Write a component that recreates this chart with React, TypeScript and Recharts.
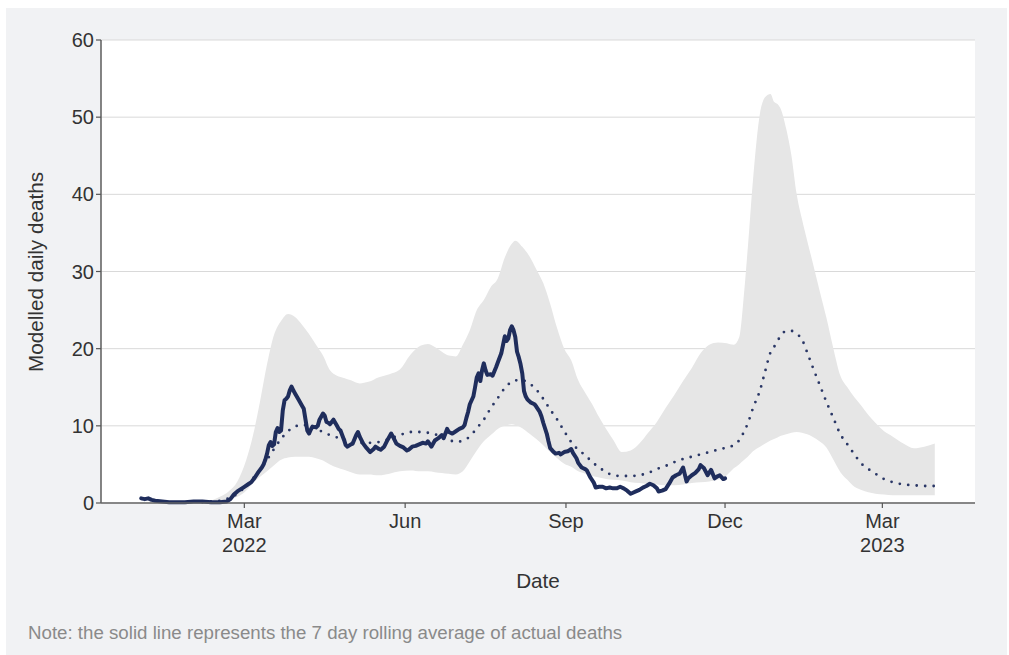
import React from "react";
import {
  ComposedChart,
  Area,
  Line,
  XAxis,
  YAxis,
  CartesianGrid,
} from "recharts";

// Day index = days since 1 Jan 2022.

// Seven-day rolling average of actual deaths
const actualDays = [
  0, 2, 4, 6, 8, 12, 16, 20, 25, 30, 35, 40, 45, 49, 51, 53, 55, 57, 59, 61,
  63, 65, 67, 69, 70, 71, 72, 73, 74, 75, 76, 77, 78, 79, 80, 81, 82, 83, 84,
  85, 86, 87, 88, 89, 90, 92, 93, 94, 95, 96, 97, 98, 100, 101, 102, 104, 105,
  106, 107, 108, 110, 112, 113, 114, 116, 117, 118, 120, 121, 123, 124, 125,
  127, 129, 131, 133, 134, 136, 137, 139, 141, 143, 144, 146, 148, 150, 152,
  153, 155, 157, 159, 161, 163, 164, 166, 168, 170, 172, 173, 175, 176, 178,
  180, 182, 184, 185, 186, 187, 188, 190, 191, 192, 193, 194, 195, 196, 197,
  198, 200, 201, 203, 204, 206, 207, 208, 209, 210, 211, 212, 213, 214, 215,
  216, 217, 218, 219, 220, 221, 223, 225, 226, 228, 229, 230, 232, 233, 234,
  236, 237, 239, 240, 242, 244, 246, 247, 249, 250, 252, 254, 255, 257, 259,
  260, 262, 264, 266, 268, 270, 272, 274, 276, 278, 280, 281, 283, 285, 287,
  289, 291, 293, 295, 296, 298, 300, 302, 304, 306, 308, 310, 311, 312, 313,
  315, 317, 319, 320, 322, 324, 326, 328, 330, 331, 333, 334,
];
const actualDeaths = [
  0.6, 0.5, 0.6, 0.4, 0.3, 0.2, 0.1, 0.1, 0.1, 0.2, 0.2, 0.1, 0.1, 0.2, 0.5,
  1.1, 1.5, 1.8, 2.1, 2.4, 2.7, 3.3, 4.0, 4.6, 5.0, 5.6, 6.4, 7.5, 7.9, 7.4,
  7.6, 9.2, 9.7, 9.2, 9.4, 12.0, 13.3, 13.5, 13.8, 14.6, 15.1, 14.6, 14.2,
  13.8, 13.4, 12.6, 12.2, 10.8, 9.4, 9.0, 9.5, 9.9, 9.8, 10.0, 10.8, 11.6,
  11.3, 10.5, 10.4, 10.2, 10.8, 10.0, 9.6, 9.4, 8.2, 7.5, 7.3, 7.6, 7.7, 8.8,
  9.2, 8.6, 7.7, 7.1, 6.6, 7.0, 7.3, 7.0, 6.9, 7.3, 8.2, 9.0, 8.6, 7.7, 7.4,
  7.2, 6.8, 6.9, 7.3, 7.4, 7.6, 7.8, 7.7, 8.0, 7.3, 8.1, 8.4, 8.8, 8.4, 9.6,
  9.2, 9.0, 9.3, 9.6, 9.8, 10.1, 11.0, 11.8, 12.8, 13.8, 15.0, 16.3, 16.8,
  15.8, 17.2, 18.1, 17.2, 16.6, 16.7, 16.5, 17.6, 18.2, 19.4, 20.5, 21.6, 21.0,
  21.3, 22.4, 22.9, 22.4, 21.5, 19.6, 18.9, 18.0, 16.8, 14.5, 13.8, 13.4, 13.0,
  12.8, 12.5, 11.8, 11.2, 10.4, 9.0, 8.0, 7.1, 6.6, 6.4, 6.5, 6.3, 6.6, 6.7,
  7.0, 6.5, 5.8, 5.2, 4.6, 4.4, 4.2, 3.3, 2.6, 2.0, 2.1, 2.1, 1.9, 2.0, 1.9,
  1.9, 2.1, 1.9, 1.6, 1.2, 1.3, 1.5, 1.7, 2.0, 2.2, 2.5, 2.3, 1.9, 1.5, 1.6,
  1.8, 2.5, 3.3, 3.6, 3.8, 4.6, 3.7, 2.8, 3.2, 3.6, 3.9, 4.4, 4.9, 4.5, 3.6,
  4.3, 3.2, 3.5, 3.6, 3.1, 3.2,
];

// Modelled deaths: median and uncertainty interval
const modelDays = [
  35, 40, 45, 50, 55, 60, 64, 68, 72, 76, 80, 84, 88, 92, 96, 100, 104, 108,
  112, 116, 120, 125, 130, 136, 142, 148, 154, 160, 164, 168, 172, 176, 180,
  184, 188, 192, 196, 200, 204, 208, 212, 214, 218, 222, 226, 230, 234, 238,
  242, 246, 250, 254, 258, 262, 266, 270, 275, 280, 285, 290, 295, 300, 305,
  310, 315, 320, 325, 330, 335, 339, 342, 345, 347, 350, 354, 357, 360, 362,
  364, 366, 369, 372, 375, 378, 381, 384, 388, 392, 396, 400, 404, 408, 412,
  416, 420, 425, 430, 436, 442, 448, 454,
];
const modelMedian = [
  0.1, 0.2, 0.3, 0.6, 1.2, 2.2, 3.2, 4.3, 5.6, 7.0, 8.3, 9.3, 9.9, 10.1, 10.0,
  9.6, 9.2, 8.8, 8.5, 8.2, 8.0, 7.8, 7.8, 7.9, 8.3, 8.8, 9.2, 9.2, 9.1, 8.9,
  8.6, 8.2, 7.9, 8.1, 8.6, 9.7, 10.8, 12.3, 13.6, 14.9, 15.7, 15.9, 15.9, 15.5,
  14.7, 13.5, 12.1, 10.8, 9.3, 7.9, 6.9, 6.2, 5.3, 4.6, 4.0, 3.6, 3.5, 3.5,
  3.6, 3.9, 4.4, 4.8, 5.3, 5.7, 6.0, 6.3, 6.6, 6.9, 7.2, 7.5, 8.1, 9.3, 10.3,
  12.3, 14.6, 17.1, 19.5, 20.2, 21.0, 21.7, 22.3, 22.3, 21.9, 21.2, 19.5, 17.7,
  15.4, 13.1, 11.0, 8.9, 7.6, 6.3, 5.1, 4.4, 3.8, 3.1, 2.7, 2.4, 2.3, 2.2, 2.2,
];
const modelLower = [
  0, 0.1, 0.3, 0.5, 0.8, 1.6, 2.6, 3.4, 4.1, 4.9, 5.6, 5.9, 6.0, 6.0, 6.0, 5.8,
  5.5, 5.0, 4.6, 4.3, 4.0, 3.7, 3.7, 3.6, 3.8, 4.1, 4.2, 4.1, 4.1, 4.0, 3.9,
  3.8, 3.7, 4.1, 5.4, 6.8, 8.0, 8.8, 9.6, 10.0, 10.2, 10.1, 9.7, 9.0, 8.3, 7.5,
  6.6, 5.8, 5.1, 4.7, 4.1, 3.8, 3.5, 3.3, 3.1, 3.0, 2.9, 2.7, 2.6, 2.5, 2.4,
  2.3, 2.3, 2.4, 2.6, 2.7, 2.8, 3.0, 3.6, 4.5, 5.0, 5.6, 6.0, 6.7, 7.3, 7.7,
  8.1, 8.3, 8.5, 8.7, 8.9, 9.1, 9.2, 9.1, 8.9, 8.6, 8.0, 7.2, 5.6, 4.0, 3.0,
  2.1, 1.7, 1.4, 1.2, 1.1, 1.0, 1.0, 1.0, 1.0, 1.0,
];
const modelUpper = [
  0, 0.3, 0.8, 1.5, 2.8, 5.5, 8.8, 13.2, 18.0, 21.8, 23.6, 24.5, 24.1, 23.1,
  21.9, 20.5, 19.1, 17.2, 16.5, 16.2, 15.9, 15.5, 15.7, 16.3, 16.7, 17.3, 19.2,
  20.4, 20.6, 20.2, 19.6, 19.1, 19.0, 20.5, 22.4, 25.0, 26.3, 28.0, 29.1, 31.8,
  33.6, 34.0, 33.2, 32.0, 30.3, 28.5, 25.8, 22.6, 20.0, 18.5, 15.9, 14.3, 12.8,
  11.1, 9.6, 8.2, 6.6, 6.8, 7.7, 9.1, 10.5, 12.3, 14.0, 15.8, 17.5, 19.4, 20.5,
  20.8, 20.7, 20.5, 21.4, 27.5, 33.0, 41.9, 50.5, 52.6, 53.0, 52.0, 51.7, 51.0,
  48.5, 45.0, 40.0, 36.8, 34.0, 31.3, 27.6, 24.0, 20.0, 16.5, 15.0, 13.7, 12.6,
  11.4, 10.4, 9.3, 8.6, 7.7, 7.1, 7.3, 7.7,
];

// Axis ticks
const xTickDays = [59, 151, 243, 334, 424];
const xTickLabels = [["Mar", "2022"], ["Jun"], ["Sep"], ["Dec"], ["Mar", "2023"]];
const yTicks = [0, 10, 20, 30, 40, 50, 60];

const actualData = actualDays.map((d, i) => ({ d, v: actualDeaths[i] }));
const modelData = modelDays.map((d, i) => ({
  d,
  med: modelMedian[i],
  band: [modelLower[i], modelUpper[i]],
}));

const FONT = "'Liberation Sans', Arial, Helvetica, sans-serif";
const NAVY = "#1f2d5c";

const XTick = (props: any) => {
  const { x, y, payload } = props;
  const idx = xTickDays.indexOf(payload.value);
  const lines = idx >= 0 ? xTickLabels[idx] : [];
  return (
    <text
      x={x}
      y={y}
      textAnchor="middle"
      fill="#333"
      fontSize={20}
      fontFamily={FONT}
    >
      {lines.map((t, i) => (
        <tspan key={i} x={x} dy={i === 0 ? 18 : 23.5}>
          {t}
        </tspan>
      ))}
    </text>
  );
};

export default function App() {
  return (
    <div
      style={{
        position: "absolute",
        left: 0,
        top: 0,
        width: 1009,
        height: 655,
        background: "#ffffff",
        fontFamily: FONT,
      }}
    >
      <div
        style={{
          position: "absolute",
          left: 6,
          top: 8,
          width: 1001,
          height: 647,
          background: "#f1f2f4",
        }}
      />
      <div style={{ position: "absolute", left: 0, top: 0 }}>
        <ComposedChart
          width={1009}
          height={655}
          margin={{ top: 40, right: 34, bottom: 92, left: 0 }}
        >
          <CartesianGrid
            horizontal
            vertical={false}
            fill="#ffffff"
            stroke="#d9d9d9"
            strokeWidth={1}
          />
          <XAxis
            type="number"
            dataKey="d"
            domain={[-23, 477]}
            ticks={xTickDays}
            allowDataOverflow
            height={60}
            tick={<XTick />}
            tickLine={{ stroke: "#555", strokeWidth: 1.2 }}
            tickSize={5}
            axisLine={{ stroke: "#666", strokeWidth: 1.6 }}
            interval={0}
          />
          <YAxis
            type="number"
            domain={[0, 60]}
            ticks={yTicks}
            width={101}
            interval={0}
            tick={{ fill: "#333", fontSize: 20, fontFamily: FONT }}
            tickLine={{ stroke: "#555", strokeWidth: 1.2 }}
            tickSize={5}
            axisLine={{ stroke: "#666", strokeWidth: 1.6 }}
          />
          <Area
            data={modelData}
            dataKey="band"
            type="monotone"
            stroke="none"
            fill="#e6e6e6"
            fillOpacity={1}
            isAnimationActive={false}
            dot={false}
            activeDot={false}
          />
          <Line
            data={modelData}
            dataKey="med"
            type="monotone"
            stroke="#2a3766"
            strokeWidth={2.8}
            strokeDasharray="0 8.5"
            strokeLinecap="round"
            dot={false}
            activeDot={false}
            isAnimationActive={false}
          />
          <Line
            data={actualData}
            dataKey="v"
            type="linear"
            stroke={NAVY}
            strokeWidth={4}
            strokeLinejoin="round"
            strokeLinecap="round"
            dot={false}
            activeDot={false}
            isAnimationActive={false}
          />
        </ComposedChart>
      </div>
      <div
        style={{
          position: "absolute",
          left: 36,
          top: 272,
          transform: "translate(-50%, -50%) rotate(-90deg)",
          whiteSpace: "nowrap",
          fontSize: 20.7,
          color: "#333",
          lineHeight: 1,
        }}
      >
        Modelled daily deaths
      </div>
      <div
        style={{
          position: "absolute",
          left: 538,
          top: 581,
          transform: "translate(-50%, -50%)",
          whiteSpace: "nowrap",
          fontSize: 20.7,
          color: "#333",
          lineHeight: 1,
        }}
      >
        Date
      </div>
      <div
        style={{
          position: "absolute",
          left: 28,
          top: 633,
          transform: "translateY(-50%)",
          whiteSpace: "nowrap",
          fontSize: 18.7,
          color: "#8a8a8a",
          lineHeight: 1,
        }}
      >
        Note: the solid line represents the 7 day rolling average of actual deaths
      </div>
    </div>
  );
}
